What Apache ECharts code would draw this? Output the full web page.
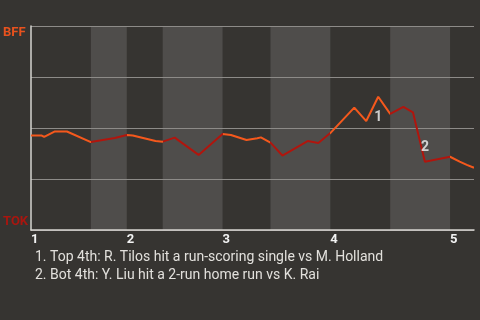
<!DOCTYPE html>
<html><head><meta charset="utf-8">
<script src="https://cdn.jsdelivr.net/npm/echarts@6/dist/echarts.min.js"></script>
<style>html,body{margin:0;padding:0;background:#363431}#c{width:480px;height:320px}</style>
</head><body><div id="c"></div>
<script>
// event index (plate appearances) and BFF win probability (%)
const eventX = [0, 0.9, 1.1, 2, 3, 5, 6, 7, 8, 8.5, 10.4, 11, 12, 14, 16, 16.7, 18, 18.9, 19.2, 20, 21, 23.1, 24, 25, 27, 28, 29, 30, 31.1, 31.9, 32.9, 35, 35.8, 36.4, 37];
const winProb = [46.3, 46.3, 45.6, 48.3, 48.3, 43.1, 44.1, 45.1, 46.6, 46.3, 43.6, 43.3, 45.3, 36.8, 47.1, 46.6, 44.1, 45.0, 45.4, 42.8, 36.5, 43.6, 42.6, 47.5, 60.0, 53.4, 65.3, 56.9, 60.4, 57.7, 33.5, 35.9, 33.5, 31.9, 30.5];
// half-inning boundaries (event index)
const topHalves = [[0, 5], [8, 11], [16, 20], [25, 30], [35, 37]];
const bottomHalves = [[5, 8], [11, 16], [20, 25], [30, 35]];
const inningStarts = [0, 8, 16, 25, 35];
const inningLabels = ['1', '2', '3', '4', '5'];
const teams = ['BFF', 'TOK'];
const annotationAt = [29, 32.9];
const annotationText = ['1', '2'];
const annotationSide = ['bottom', 'top'];
const notes = [
  '1. Top 4th: R. Tilos hit a run-scoring single vs M. Holland',
  '2. Bot 4th: Y. Liu hit a 2-run home run vs K. Rai'
];

const ORANGE = '#f5581c', RED = '#b0150d';
const lineData = eventX.map((x, i) => [x, winProb[i]]);
const annData = annotationAt.map((x, i) => ({
  value: [x, winProb[eventX.indexOf(x)]],
  label: { show: true, formatter: annotationText[i], position: annotationSide[i], distance: i === 0 ? 14 : 7 }
}));
const pieces = topHalves.map(h => ({ gte: h[0], lt: h[1], color: ORANGE }))
  .concat(bottomHalves.map(h => ({ gte: h[0], lt: h[1], color: RED })));
pieces[4].lte = pieces[4].lt; delete pieces[4].lt;

const chart = echarts.init(document.getElementById('c'), null, { renderer: 'canvas' });
chart.setOption({
  backgroundColor: '#363431',
  animation: false,
  textStyle: { fontFamily: 'Roboto' },
  grid: { left: 30, right: 6, top: 26, bottom: 90 },
  title: {
    text: notes.join('\n'), left: 30, top: 243,
    textStyle: { color: '#e2e0dc', fontSize: 14, fontWeight: 'normal', fontFamily: 'Roboto', lineHeight: 18 }
  },
  visualMap: { show: false, type: 'piecewise', dimension: 0, seriesIndex: 1, pieces: pieces },
  xAxis: {
    type: 'value', min: 0, max: 37, interval: 1, z: 5,
    axisLine: { show: true, lineStyle: { color: '#d6d4d0', width: 1.5 } },
    axisTick: { show: false },
    splitLine: { show: false },
    axisLabel: {
      color: '#f2f2f2', fontWeight: 'bold', fontSize: 13, align: 'left', margin: 3,
      showMinLabel: true, showMaxLabel: true,
      formatter: v => { const k = inningStarts.indexOf(v); return k >= 0 ? inningLabels[k] : ''; }
    }
  },
  yAxis: {
    type: 'value', min: 0, max: 100, interval: 25, z: 5,
    axisLine: { show: true, lineStyle: { color: '#d6d4d0', width: 1.5 } },
    axisTick: { show: false },
    splitLine: { show: true, lineStyle: { color: '#8d8b88', width: 1 } },
    axisLabel: {
      margin: 28, align: 'left',
      formatter: v => v === 100 ? '{b|' + teams[0] + '}' : (v === 0 ? '{t|' + teams[1] + '}' : ''),
      rich: {
        b: { color: '#e8521e', fontWeight: 'bold', fontSize: 13, padding: [14, 0, 0, 0] },
        t: { color: '#a8160f', fontWeight: 'bold', fontSize: 13, padding: [0, 0, 17, 0] }
      }
    }
  },
  series: [
    {
      type: 'line', data: [], z: 1, silent: true,
      markArea: {
        silent: true,
        itemStyle: { color: '#4f4d4b' },
        data: bottomHalves.map(h => [{ xAxis: h[0] }, { xAxis: h[1] }])
      }
    },
    {
      type: 'line', data: lineData, showSymbol: false, symbol: 'none',
      lineStyle: { width: 2 }, z: 10
    },
    {
      type: 'scatter', data: annData, symbolSize: 0, z: 11,
      label: { color: '#f4f4f4', fontWeight: 'bold', fontSize: 14 }
    }
  ]
});
</script></body></html>
